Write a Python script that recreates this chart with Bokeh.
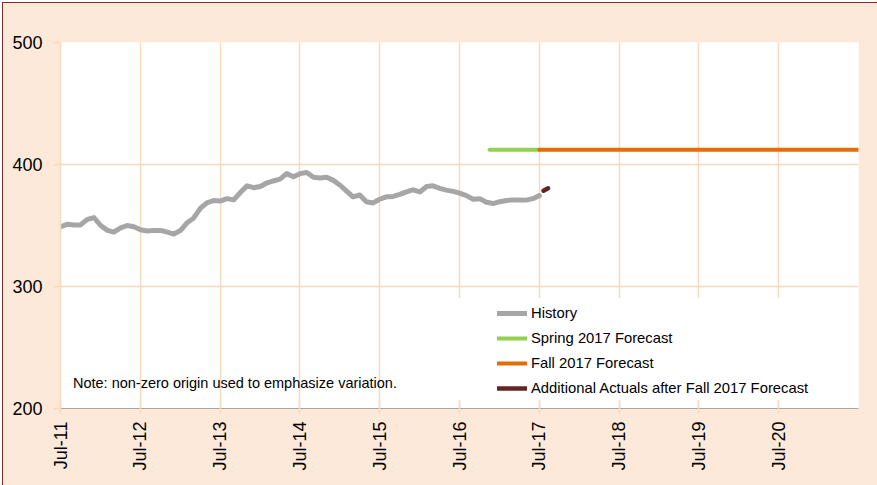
import pandas as pd
from bokeh.plotting import figure
from bokeh.models import (FixedTicker, DatetimeTickFormatter, Range1d, Legend,
                          LegendItem, Label, BoxAnnotation)
from bokeh.embed import file_html
from bokeh.resources import INLINE

# ---------------- data ----------------
history_start = "2011-07-01"
history_values = [
    349, 351, 350.5, 350.5, 355, 356.5, 350, 346, 344.5, 348, 350, 349,
    346.5, 345.5, 346, 346, 344.5, 343, 346, 352.5, 356, 364, 368.5, 370.5,
    370, 372, 371, 377, 382.5, 381, 382, 385, 386.5, 388, 392.5, 390,
    392.5, 393.5, 389.5, 389, 389.5, 387, 383, 378, 373.5, 375, 369.5, 368.5,
    371.5, 373.5, 373.8, 375.5, 377.5, 379.3, 377.5, 382, 382.5, 380.5, 379, 378,
    376.5, 374.5, 371.5, 372, 369, 368, 369.5, 370.5, 371, 371, 370.8, 372,
    374.5,
]
spring_dates = ["2016-11-15", "2017-07-01"]
spring_values = [412, 412]
fall_dates = ["2017-07-01", "2021-07-01"]
fall_values = [412, 412]
actual_dates = ["2017-07-20", "2017-08-10"]
actual_values = [378.5, 380.5]

tick_dates = ["2011-07-01", "2012-07-01", "2013-07-01", "2014-07-01", "2015-07-01",
              "2016-07-01", "2017-07-01", "2018-07-01", "2019-07-01", "2020-07-01"]
x_start, x_end = "2011-07-01", "2021-07-01"
y_ticks = [200, 300, 400, 500]
legend_labels = ["History", "Spring 2017 Forecast", "Fall 2017 Forecast",
                 "Additional Actuals after Fall 2017 Forecast"]
note_text = "Note: non-zero origin used to emphasize variation."

# ---------------- style ----------------
PEACH = "#FDE9D9"
GRID = "#FAD8BC"
FONT = "Liberation Sans"


def ms(d):
    return pd.Timestamp(d).timestamp() * 1000.0


history_dates = pd.date_range(history_start, periods=len(history_values), freq="MS")

p = figure(width=877, height=485, x_axis_type="datetime", title=None,
           output_backend="svg", toolbar_location=None,
           x_range=Range1d(ms(x_start), ms(x_end)), y_range=Range1d(200, 500),
           min_border_left=60, min_border_right=19, min_border_top=42,
           min_border_bottom=77)
p.background_fill_color = "white"
p.border_fill_color = PEACH
p.outline_line_color = None
p.stylesheets = [
    ":host::after { content: ''; position: absolute; left: 2px; top: 2px; "
    "right: 0; bottom: 0; border-top: 1px solid #7B2C2C; "
    "border-left: 1px solid #7B2C2C; box-shadow: -2px -2px 0 #FFFFFF; "
    "pointer-events: none; }"
]

# grids
p.xgrid.ticker = FixedTicker(ticks=[ms(d) for d in tick_dates[1:]])
p.ygrid.ticker = FixedTicker(ticks=[t for t in y_ticks if 200 < t < 500])
p.xgrid.grid_line_color = GRID
p.ygrid.grid_line_color = GRID
p.xgrid.grid_line_width = 1.5
p.ygrid.grid_line_width = 1.5

# x axis
fmt = "%b-%y"
p.xaxis.ticker = FixedTicker(ticks=[ms(d) for d in tick_dates])
p.xaxis.formatter = DatetimeTickFormatter(
    microseconds=fmt, milliseconds=fmt, seconds=fmt, minsec=fmt, minutes=fmt,
    hourmin=fmt, hours=fmt, days=fmt, months=fmt, years=fmt)
p.xaxis.major_label_orientation = 3.14159265 / 2
p.xaxis.axis_line_color = "#A6A6A6"
p.xaxis.major_tick_line_color = GRID
p.xaxis.major_tick_line_width = 1.5
p.xaxis.major_tick_out = 5
p.xaxis.major_tick_in = 8
p.xaxis.minor_tick_line_color = None
p.xaxis.major_label_standoff = 8
p.xaxis.major_label_text_font = FONT
p.xaxis.major_label_text_font_size = "18px"
p.xaxis.major_label_text_color = "#000000"

# y axis
p.yaxis.ticker = FixedTicker(ticks=y_ticks)
p.yaxis.axis_line_color = GRID
p.yaxis.axis_line_width = 1.5
p.yaxis.major_tick_line_color = GRID
p.yaxis.major_tick_line_width = 1.5
p.yaxis.major_tick_out = 7
p.yaxis.major_tick_in = 0
p.yaxis.minor_tick_line_color = None
p.yaxis.major_label_standoff = 11
p.yaxis.major_label_text_font = FONT
p.yaxis.major_label_text_font_size = "18px"
p.yaxis.major_label_text_color = "#000000"

# lines
r_hist = p.line(history_dates, history_values, line_color="#A6A6A6", line_width=5,
                line_cap="round", line_join="round")
r_spring = p.line(pd.to_datetime(spring_dates), spring_values, line_color="#92D050",
                  line_width=4, line_cap="round")
r_fall = p.line(pd.to_datetime(fall_dates), fall_values, line_color="#E46C0A",
                line_width=4, line_cap="round")
r_act = p.line(pd.to_datetime(actual_dates), actual_values, line_color="#632523",
               line_width=4.5, line_cap="round")

# white legend box hiding grid lines
box = BoxAnnotation(left=ms("2016-06-10"), right=ms(x_end), bottom=206.8, top=290.5,
                    fill_color="white", fill_alpha=1.0, line_alpha=0)
p.add_layout(box)

legend = Legend(items=[LegendItem(label=l, renderers=[r]) for l, r in
                       zip(legend_labels, [r_hist, r_spring, r_fall, r_act])],
                location=(437, 10), padding=0, margin=0, spacing=5,
                glyph_width=30, glyph_height=20, label_height=20, label_standoff=4,
                label_text_font=FONT, label_text_font_size="14.8px",
                label_text_color="#000000",
                background_fill_alpha=0, border_line_color=None)
p.add_layout(legend)

note = Label(x=ms("2011-08-27"), y=220.5, text=note_text, text_font=FONT,
             text_font_size="14.5px", text_baseline="middle", text_color="#000000")
p.add_layout(note)

open("out.html", "w").write(file_html(p, INLINE))
